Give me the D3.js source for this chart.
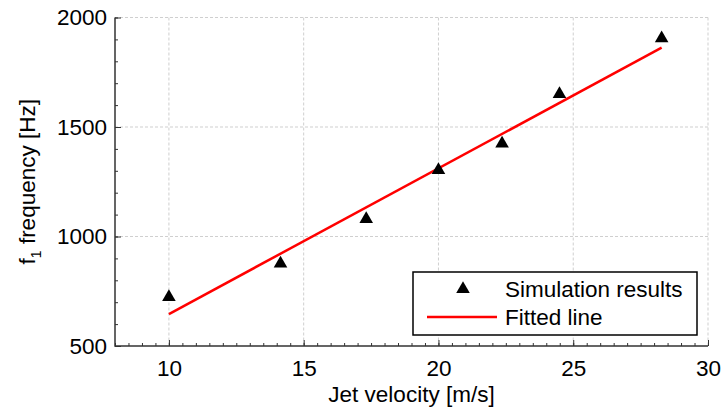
<!DOCTYPE html>
<html><head><meta charset="utf-8">
<script src="https://cdn.jsdelivr.net/npm/d3@7"></script>
<style>body{margin:0;background:#fff}svg{display:block}text{font-family:"Liberation Sans",Arial,sans-serif}</style>
</head><body><svg id="c" width="723" height="412"></svg>
<script>
const velocity = [10, 14.14, 17.32, 20, 22.36, 24.49, 28.28];
const frequency = [728, 881, 1084, 1308, 1429, 1655, 1909];
const fitX = [10, 28.28];
const fitY = [646, 1862];
const xTicks = [10, 15, 20, 25, 30];
const yTicks = [500, 1000, 1500, 2000];
const legendLabels = ["Simulation results", "Fitted line"];

const svg = d3.select("#c");
const L = 115, R = 708, T = 17.5, B = 346;
const x = d3.scaleLinear().domain([8, 30]).range([L, R]);
const y = d3.scaleLinear().domain([500, 2000]).range([B, T]);
const fs = 22.5;

// grid
const g = svg.append("g");
g.selectAll(".gx").data(xTicks).enter().append("line")
  .attr("x1", d => x(d)).attr("x2", d => x(d)).attr("y1", T).attr("y2", B)
  .attr("stroke", "#cfcfcf").attr("stroke-width", 1).attr("stroke-dasharray", "3,2");
g.selectAll(".gy").data(yTicks.filter(d => d > 500)).enter().append("line")
  .attr("x1", L).attr("x2", R).attr("y1", d => y(d)).attr("y2", d => y(d))
  .attr("stroke", "#cfcfcf").attr("stroke-width", 1).attr("stroke-dasharray", "3,2");

// axes with inward ticks
const xMinor = d3.range(8, 30.01, 0.5);
const yMinor = d3.range(500, 2000.1, 100);
const xAx = svg.append("g").attr("transform", `translate(0,${B})`)
  .call(d3.axisBottom(x).tickValues(xMinor).tickSize(-3).tickFormat(""));
xAx.select(".domain").remove();
xAx.selectAll("line").attr("stroke", "#333");
const xAxM = svg.append("g").attr("transform", `translate(0,${B})`)
  .call(d3.axisBottom(x).tickValues(xTicks).tickSize(-6).tickPadding(14).tickFormat(d3.format("d")));
xAxM.select(".domain").remove();
xAxM.selectAll("line").attr("stroke", "#333");
xAxM.selectAll("text").attr("font-size", fs).attr("fill", "#000").attr("font-family", "Liberation Sans, Arial, sans-serif");

const yAx = svg.append("g").attr("transform", `translate(${L},0)`)
  .call(d3.axisLeft(y).tickValues(yMinor).tickSize(-3).tickFormat(""));
yAx.select(".domain").remove();
yAx.selectAll("line").attr("stroke", "#333");
const yAxM = svg.append("g").attr("transform", `translate(${L},0)`)
  .call(d3.axisLeft(y).tickValues(yTicks).tickSize(-6).tickPadding(8).tickFormat(d3.format("d")));
yAxM.select(".domain").remove();
yAxM.selectAll("line").attr("stroke", "#333");
yAxM.selectAll("text").attr("font-size", fs).attr("fill", "#000").attr("font-family", "Liberation Sans, Arial, sans-serif");

svg.append("path").attr("d", `M${L},${T}V${B}H${R}`).attr("fill", "none")
  .attr("stroke", "#333").attr("stroke-width", 1.5);

// fitted line
const line = d3.line().x(d => x(d[0])).y(d => y(d[1]));
svg.append("path").datum(d3.zip(fitX, fitY)).attr("d", line)
  .attr("fill", "none").attr("stroke", "#ff0000").attr("stroke-width", 2.5);

// triangles
const tri = d3.symbol().type(d3.symbolTriangle).size(80);
svg.selectAll(".pt").data(d3.zip(velocity, frequency)).enter().append("path")
  .attr("d", tri).attr("transform", d => `translate(${x(d[0])},${y(d[1]) + 1})`)
  .attr("fill", "#000");

// legend
const lg = svg.append("g");
lg.append("rect").attr("x", 413).attr("y", 272).attr("width", 284).attr("height", 63)
  .attr("fill", "#fff").attr("stroke", "#000").attr("stroke-width", 1.5);
lg.append("path").attr("d", tri).attr("transform", "translate(463,289)").attr("fill", "#000");
lg.append("line").attr("x1", 427).attr("x2", 497).attr("y1", 317).attr("y2", 317)
  .attr("stroke", "#ff0000").attr("stroke-width", 2.5);
lg.selectAll(".lt").data(legendLabels).enter().append("text")
  .attr("x", 505).attr("y", (d, i) => 297 + i * 28).attr("font-size", fs).text(d => d);

// axis labels
svg.append("text").attr("x", (L + R) / 2).attr("y", 402).attr("text-anchor", "middle")
  .attr("font-size", fs).text("Jet velocity [m/s]");
const yl = svg.append("text").attr("transform", `translate(35,${(T + B) / 2}) rotate(-90)`)
  .attr("text-anchor", "middle").attr("font-size", fs);
yl.append("tspan").text("f");
yl.append("tspan").attr("font-size", 14).attr("dy", 6).text("1");
yl.append("tspan").attr("dy", -6).text(" frequency [Hz]");
</script></body></html>
